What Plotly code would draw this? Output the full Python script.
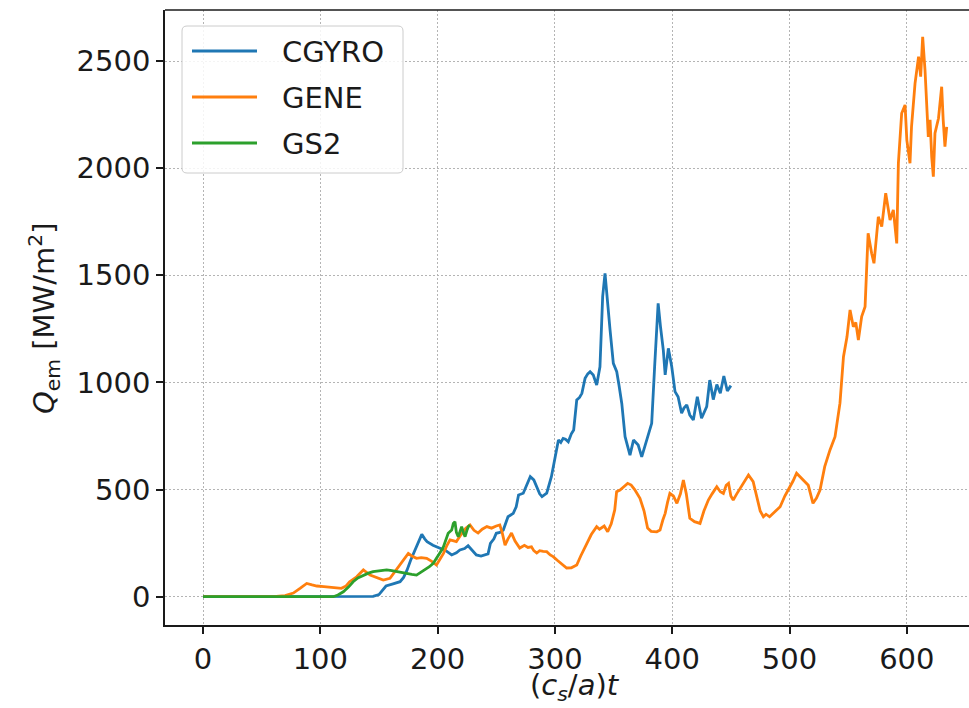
import plotly.graph_objects as go

# ---- data: heat flux time traces from three gyrokinetic codes ----
cgyro_t = [
    0, 100, 140, 145, 150, 156, 162, 168, 171, 174,
    177, 181, 184, 186.5, 189, 191, 196, 202, 207, 212,
    216, 219, 223, 226, 229, 233, 237, 240, 243, 245,
    248, 250, 253, 256, 258, 260, 262, 264.5, 267, 269,
    273, 276, 279, 282, 284.5, 287, 289, 293, 297, 300,
    303, 305, 307, 309, 311.4, 314, 316, 318.6, 321, 323,
    325.7, 328, 330, 332.7, 335.6, 338.4, 340.7, 342.7, 345, 347,
    349.8, 352.7, 354.6, 357, 359.8, 362, 364, 367, 371, 374,
    378, 382.5, 385, 388, 390, 392.4, 394, 396.7, 399.6, 402.4,
    405, 408, 410, 412.4, 415, 418, 421.4, 425, 429.4, 432,
    435, 438, 441, 444, 447, 450,
]
cgyro_q = [
    0, 0, 0, 2, 10, 50, 60, 70, 90, 125,
    170, 218, 260, 291, 270, 257, 240, 226, 215, 195,
    205, 218, 225, 238, 220, 195, 190, 195, 200, 249,
    270, 296, 300, 311, 340, 373, 380, 389, 420, 475,
    483, 520, 560, 545, 513, 480, 467, 483, 560, 653,
    731, 720, 739, 735, 723, 760, 778, 918, 930, 949,
    1019, 1040, 1050, 1035, 988, 1073, 1400, 1509, 1385, 1245,
    1089, 1050, 988, 902, 747, 700, 661, 731, 708, 653,
    723, 809, 1073, 1369, 1260, 1151, 1035, 1159, 1073, 957,
    933, 856, 880, 895, 848, 825, 933, 833, 887, 1011,
    920, 990, 950, 1030, 960, 985,
]

gene_t = [
    0, 60, 70, 77, 83, 88.4, 93, 97, 103, 108,
    113, 118, 122, 125, 131, 136.7, 142.4, 148, 153.7, 159.4,
    164, 168, 172, 175, 178, 182, 186, 190.7, 195, 199,
    202, 205, 208, 210.6, 213, 216, 220, 224, 227.6, 231,
    234.5, 238, 242, 246, 250, 253, 255, 257.5, 260, 263,
    266, 270, 274, 277, 280, 282, 284.5, 287, 290, 293,
    296, 298.5, 302, 306, 310, 314, 318.6, 322, 327, 331,
    335.6, 338, 342, 345, 348, 351, 352.6, 355.5, 358, 362,
    365, 368, 372.5, 376, 379, 382, 386.8, 389.6, 392, 394,
    396, 398, 401, 404, 407, 409.5, 412, 415, 419, 423.7,
    427, 430.8, 434, 438, 441, 443.6, 446, 448, 450, 452,
    455, 459, 462, 465, 469, 472, 475, 477.7, 480, 483,
    487, 492, 496, 500.4, 503, 506, 509, 512, 516, 520,
    523, 526, 530, 534.5, 538.8, 543, 546, 549, 551.6, 554.4,
    556.5, 558.7, 561.5, 564.4, 567, 570, 572, 575.7, 578.6, 582,
    585.7, 588.5, 591.4, 592.8, 595.6, 598.5, 600, 602.7, 604, 607,
    610, 611.8, 613.5, 615.5, 618.3, 619.8, 621.2, 622.6, 624, 627,
    629.7, 631, 632.5, 634,
]
gene_q = [
    0, 0, 5, 17, 40, 62, 55, 50, 47, 44,
    42, 39, 50, 70, 93, 125, 101, 90, 78, 86,
    120, 148, 180, 202, 190, 179, 182, 179, 165, 148,
    175, 202, 240, 265, 262, 257, 290, 320, 335, 310,
    297, 315, 327, 320, 330, 335, 300, 241, 270, 297,
    260, 227, 240, 230, 233, 215, 204, 215, 212, 210,
    195, 187, 170, 150, 134, 135, 148, 190, 249, 290,
    327, 315, 330, 303, 340, 405, 490, 498, 510, 529,
    521, 500, 459, 400, 320, 305, 303, 311, 358, 389,
    440, 482, 470, 436, 480, 545, 480, 366, 350, 342,
    400, 451, 480, 513, 490, 482, 520, 529, 470, 451,
    480, 513, 540, 568, 537, 470, 400, 373, 385, 373,
    395, 420, 470, 513, 540, 576, 560, 545, 520, 436,
    460, 498, 607, 685, 747, 903, 1120, 1213, 1338, 1260,
    1280, 1198, 1307, 1353, 1696, 1603, 1556, 1773, 1727, 1883,
    1758, 1805, 1649, 2023, 2256, 2295, 2131, 2023, 2193, 2396,
    2520, 2427, 2613, 2458, 2146, 2225, 2053, 1960, 2163, 2233,
    2380, 2225, 2100, 2193,
]

gs2_t = [
    0, 111, 115, 119.6, 124, 128, 132, 136.7, 141, 145,
    150, 156.6, 161, 165, 170, 173.6, 178, 182, 186, 190.7,
    193, 196.3, 200, 203.5, 205, 207.8, 209, 212, 213.4, 214.8,
    216, 217.6, 219, 220.5, 222, 223.4, 225, 226.2, 227.6,
]
gs2_q = [
    0, 0, 8, 23, 45, 70, 88, 101, 110, 117,
    121, 125, 122, 117, 112, 106, 104, 101, 115, 132,
    140, 156, 185, 218, 233, 272, 296, 311, 342, 350,
    300, 280, 305, 327, 300, 280, 310, 327, 335,
]

series_names = ["CGYRO", "GENE", "GS2"]
series_colors = ["#1f77b4", "#ff7f0e", "#2ca02c"]

x_ticks = [0, 100, 200, 300, 400, 500, 600]
y_ticks = [0, 500, 1000, 1500, 2000, 2500]

FONT = "DejaVu Sans"
INK = "#1a1a1a"
FS = 29

fig = go.Figure()
for name, color, tt, qq in zip(series_names, series_colors,
                               [cgyro_t, gene_t, gs2_t],
                               [cgyro_q, gene_q, gs2_q]):
    fig.add_trace(go.Scatter(x=tt, y=qq, mode="lines", name=name,
                             line=dict(color=color, width=2.8),
                             showlegend=False))

# plot area geometry (pixels) used for the hand-drawn legend box
W, H = 969, 708
ML, MR, MT, MB = 165, 0, 10, 83
PW, PH = W - ML - MR, H - MT - MB


def px(xp):
    return (xp - ML) / PW


def py(yp):
    return (H - MB - yp) / PH


shapes = []
# top frame line
shapes.append(dict(type="line", xref="paper", yref="paper", x0=0, x1=1, y0=1, y1=1,
                   line=dict(color=INK, width=1.6), layer="above"))

# legend frame with rounded corners
bx0, bx1, by0, by1 = px(182), px(403), py(173), py(26)
rx, ry = 5 / PW, 5 / PH
path = (f"M{bx0 + rx},{by0} L{bx1 - rx},{by0} Q{bx1},{by0} {bx1},{by0 + ry} "
        f"L{bx1},{by1 - ry} Q{bx1},{by1} {bx1 - rx},{by1} "
        f"L{bx0 + rx},{by1} Q{bx0},{by1} {bx0},{by1 - ry} "
        f"L{bx0},{by0 + ry} Q{bx0},{by0} {bx0 + rx},{by0} Z")
shapes.append(dict(type="path", xref="paper", yref="paper", path=path,
                   fillcolor="rgba(255,255,255,0.85)",
                   line=dict(color="#cccccc", width=1), layer="above"))

annotations = []
rows = [51, 97, 143]
for name, color, ry_px in zip(series_names, series_colors, rows):
    shapes.append(dict(type="line", xref="paper", yref="paper",
                       x0=px(192), x1=px(257), y0=py(ry_px), y1=py(ry_px),
                       line=dict(color=color, width=2.8), layer="above"))
    annotations.append(dict(xref="paper", yref="paper", x=px(280), y=py(ry_px + 1),
                            text=name, showarrow=False, xanchor="left", yanchor="middle",
                            font=dict(family=FONT, size=FS, color=INK)))

# axis titles
annotations.append(dict(xref="paper", yref="paper", x=px(575), y=py(708),
                        text="(<i>c</i><sub><i>s</i></sub>/<i>a</i>)<i>t</i>",
                        showarrow=False, xanchor="center", yanchor="bottom",
                        font=dict(family=FONT, size=FS, color=INK)))
annotations.append(dict(xref="paper", yref="paper", x=px(44), y=py(318),
                        text="<i>Q</i><sub>em</sub> [MW/m<sup>2</sup>]",
                        showarrow=False, xanchor="center", yanchor="middle",
                        textangle=-90,
                        font=dict(family=FONT, size=FS, color=INK)))

axis_common = dict(
    showline=True, linecolor=INK, linewidth=1.6,
    ticks="outside", ticklen=7, tickwidth=1.5, tickcolor=INK,
    showgrid=True, gridcolor="#b4b4b4", griddash="1.5px,2.5px", gridwidth=1.2,
    zeroline=False,
    tickfont=dict(family=FONT, size=FS, color=INK),
)

fig.update_layout(
    width=W, height=H,
    margin=dict(l=ML, r=MR, t=MT, b=MB, pad=0),
    paper_bgcolor="white", plot_bgcolor="white",
    shapes=shapes, annotations=annotations,
    xaxis=dict(range=[-32.4, 653.0], tickvals=x_ticks, ticktext=[str(v) for v in x_ticks],
               **axis_common),
    yaxis=dict(range=[-132, 2738], tickvals=y_ticks, ticktext=[str(v) for v in y_ticks],
               **axis_common),
)

fig.write_html("out.html")
